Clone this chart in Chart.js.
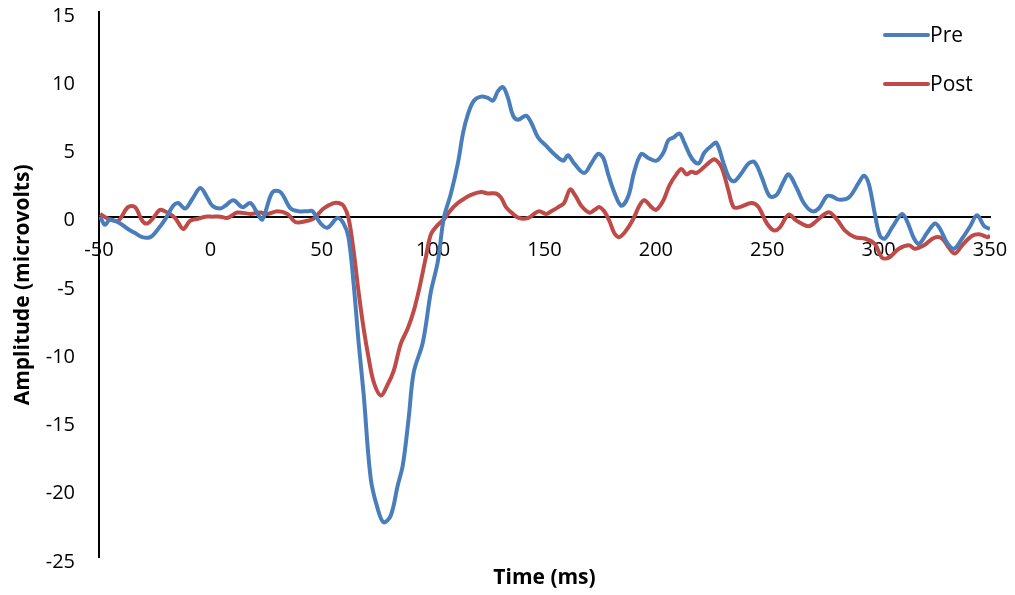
<!DOCTYPE html>
<html>
<head>
<meta charset="utf-8">
<script src="https://cdn.jsdelivr.net/npm/chart.js@4/dist/chart.umd.min.js"></script>
<style>
  html, body { margin: 0; padding: 0; background: #fff; }
  #wrap { width: 1015px; height: 595px; }
</style>
</head>
<body>
<div id="wrap"><canvas id="erpChart" width="1015" height="595"></canvas></div>
<script>
// time points (ms) and amplitudes (microvolts)
const preTime = [
  -49.5, -47.3, -45, -40.5, -37, -33.8, -30.6, -27, -23.9, -20.3,
  -16.7, -14.5, -11.3, -8.1, -4.5, -1.4, 0.9, 4.5, 6.7, 10.3,
  14.4, 18, 21.6, 23.4, 27.9, 31.5, 36, 39.6, 43.6, 45.9,
  49.5, 52.6, 57.1, 59.8, 62, 64.3, 66.6, 68.8, 72, 75.1,
  77.8, 81, 84.1, 86.4, 89, 91.3, 95.4, 99, 102.1, 104.8,
  108, 111.1, 113.4, 115.6, 118.3, 121.5, 124.6, 126.9, 129.1, 131.4,
  133.6, 135.9, 138.1, 141.7, 144, 147.1, 150.7, 154.3, 158.4, 160.5,
  163.3, 167.8, 171, 174.1, 176.4, 178.6, 181.3, 184.5, 187.6, 190.3,
  193.5, 196.6, 200.2, 203.4, 205.6, 207.9, 210.6, 212.8, 216, 219.1,
  221.8, 225, 227.2, 230.4, 233.1, 235.3, 238.5, 241.6, 244.3, 247.5,
  251.1, 254.2, 257.4, 259.6, 263.2, 266.4, 270, 273.1, 276.7, 279,
  282.1, 286.6, 291.1, 293.4, 295.6, 298.3, 300.6, 302.8, 306, 310.5,
  312.7, 315.9, 318.1, 321.7, 325.3, 327.6, 330.7, 333.9, 337.5, 341.1,
  344.2, 347.4, 350
];
const preValues = [
  0.0, -0.6, -0.2, -0.5, -0.9, -1.2, -1.5, -1.5, -1.0, -0.2,
  0.8, 1.0, 0.6, 1.3, 2.1, 1.4, 0.8, 0.6, 0.8, 1.2,
  0.7, 1.0, 0.1, -0.2, 1.8, 1.8, 0.6, 0.4, 0.4, 0.4,
  -0.5, -0.8, -0.1, -0.5, -1.5, -4.9, -9.3, -13.0, -19.2, -21.4,
  -22.4, -21.9, -19.7, -18.2, -14.8, -11.4, -9.2, -5.5, -3.3, -0.1,
  1.7, 3.9, 6.1, 7.5, 8.5, 8.8, 8.7, 8.5, 9.2, 9.5,
  8.7, 7.4, 7.1, 7.4, 6.9, 5.8, 5.2, 4.6, 4.1, 4.5,
  3.9, 3.2, 3.9, 4.6, 4.3, 3.1, 1.8, 0.8, 1.5, 3.3,
  4.6, 4.3, 4.1, 4.7, 5.6, 5.8, 6.1, 5.4, 4.3, 3.9,
  4.7, 5.2, 5.4, 3.9, 2.8, 2.6, 3.2, 3.9, 4.0, 2.9,
  1.5, 1.6, 2.6, 3.1, 2.1, 1.0, 0.4, 0.6, 1.5, 1.5,
  1.25, 1.4, 2.5, 3.0, 2.4, 0.2, -1.4, -1.6, -0.8, 0.2,
  -0.3, -1.6, -2.0, -1.2, -0.5, -0.9, -1.9, -2.35, -1.6, -0.7,
  0.1, -0.7, -0.9
];

const postTime = [
  -49.5, -46, -41.5, -37, -33.8, -30.6, -28.4, -25.7, -22.6, -19.4,
  -15.8, -12.2, -9.1, -5.5, -2.3, 0.9, 4.5, 7.6, 12.1, 18,
  22.5, 25.6, 30.1, 34.6, 38.2, 43.6, 46.3, 50.8, 55.3, 57.6,
  59.8, 62, 64.3, 66.6, 68.8, 71.1, 73.3, 76.5, 79.6, 82.3,
  85.5, 88.6, 91.3, 93.6, 96.7, 99, 102.1, 104.8, 108, 111.1,
  113.8, 117, 121.5, 124.6, 128.2, 130.5, 132.7, 135.9, 138.6, 142.6,
  145.3, 147.6, 150.7, 153, 156.2, 158.8, 161.5, 164, 166.5, 170.1,
  172.5, 174.6, 176.8, 179.1, 181.3, 183.6, 186.7, 189.9, 192.6, 194.8,
  198, 200.2, 203.4, 206.1, 209.2, 211.5, 213.7, 216, 218.2, 221.4,
  224.1, 226.4, 229.5, 232.6, 234.9, 237.6, 243, 246.1, 249.7, 252.9,
  255.6, 259.6, 263.2, 268.6, 272.2, 275.8, 278.1, 281.7, 284.8, 289.3,
  293.8, 298.3, 301.5, 304.6, 309.1, 313.6, 316.3, 320.4, 324.9, 328.5,
  331.6, 334.3, 337.5, 342, 345.6, 348.7, 350
];
const postValues = [
  0.2, -0.15, -0.3, 0.7, 0.7, -0.3, -0.5, -0.1, 0.5, 0.3,
  -0.1, -0.9, -0.3, -0.15, 0.0, 0.0, 0.0, -0.1, 0.3, 0.2,
  0.3, 0.2, 0.4, 0.2, -0.4, -0.3, -0.15, 0.6, 1.0, 1.0,
  0.8, -0.1, -2.5, -5.6, -8.2, -10.4, -12.1, -13.1, -12.3, -11.3,
  -9.3, -8.2, -6.9, -5.4, -3.0, -1.3, -0.6, -0.2, 0.5, 1.0,
  1.3, 1.6, 1.8, 1.7, 1.7, 1.4, 0.7, 0.2, -0.1, -0.1,
  0.2, 0.4, 0.2, 0.4, 0.7, 1.0, 2.0, 1.5, 0.8, 0.3,
  0.5, 0.7, 0.4, -0.3, -1.2, -1.5, -1.0, -0.15, 0.8, 1.2,
  0.7, 0.5, 1.2, 2.3, 3.1, 3.5, 3.1, 3.3, 3.2, 3.6,
  4.0, 4.2, 3.6, 1.9, 0.7, 0.7, 1.0, 0.7, -0.45, -1.0,
  -0.8, 0.15, -0.3, -0.7, -0.3, 0.2, 0.3, -0.3, -1.0, -1.5,
  -1.6, -2.0, -3.0, -3.0, -2.35, -2.1, -2.35, -2.1, -1.55, -1.6,
  -2.3, -2.7, -2.1, -1.4, -1.3, -1.5, -1.4
];

const seriesLabels = ['Pre', 'Post'];
const seriesColors = ['#4a7ebb', '#be4b48'];

const FONT = "'Open Sans', 'DejaVu Sans', sans-serif";

function toPoints(times, values) {
  return times.map((t, i) => ({ x: t, y: values[i] }));
}

// legend drawn at top right, two stacked entries like the original
const cornerLegend = {
  id: 'cornerLegend',
  afterDraw(chart) {
    const ctx = chart.ctx;
    const rows = [35, 84];
    ctx.save();
    chart.data.datasets.forEach((ds, i) => {
      const y = rows[i];
      ctx.strokeStyle = ds.borderColor;
      ctx.lineWidth = 4;
      ctx.lineCap = 'round';
      ctx.beginPath();
      ctx.moveTo(885, y);
      ctx.lineTo(928, y);
      ctx.stroke();
      ctx.fillStyle = '#000';
      ctx.font = '21px ' + FONT;
      ctx.textBaseline = 'middle';
      ctx.textAlign = 'left';
      ctx.fillText(ds.label, 930, y + 1);
    });
    ctx.restore();
  }
};

new Chart(document.getElementById('erpChart').getContext('2d'), {
  type: 'line',
  data: {
    datasets: [
      {
        label: seriesLabels[0],
        data: toPoints(preTime, preValues),
        borderColor: seriesColors[0],
        backgroundColor: seriesColors[0],
        borderWidth: 4,
        pointRadius: 0,
        tension: 0.35,
        fill: false
      },
      {
        label: seriesLabels[1],
        data: toPoints(postTime, postValues),
        borderColor: seriesColors[1],
        backgroundColor: seriesColors[1],
        borderWidth: 4,
        pointRadius: 0,
        tension: 0.35,
        fill: false
      }
    ]
  },
  options: {
    responsive: false,
    animation: false,
    layout: {
      padding: { left: 0, right: 25, top: 12, bottom: 0 }
    },
    scales: {
      x: {
        type: 'linear',
        position: { y: 0 },
        min: -50,
        max: 350,
        grid: { display: false, drawTicks: false },
        border: { display: true, color: '#000', width: 2 },
        ticks: {
          stepSize: 50,
          padding: 22,
          color: '#000',
          font: { family: FONT, size: 20 }
        },
        afterFit(scale) {
          // the end labels may hang over the edges, as in the original
          scale.paddingLeft = 0;
          scale.paddingRight = 0;
        }
      },
      y: {
        min: -25,
        max: 15,
        grid: { display: false, drawTicks: false },
        border: { display: true, color: '#000', width: 2 },
        ticks: {
          stepSize: 5,
          padding: 24,
          labelOffset: 4,
          color: '#000',
          font: { family: FONT, size: 20 }
        },
        title: {
          display: true,
          text: 'Amplitude (microvolts)',
          color: '#000',
          padding: { top: 10, bottom: 0 },
          font: { family: FONT, size: 21, weight: 'bold' }
        },
        afterFit(scale) {
          scale.width = 99;
          scale.paddingTop = 0;
          scale.paddingBottom = 0;
        }
      }
    },
    plugins: {
      legend: { display: false },
      tooltip: { enabled: false },
      title: {
        display: true,
        position: 'bottom',
        fullSize: false,
        text: 'Time (ms)',
        color: '#000',
        padding: { top: 8, bottom: 4 },
        font: { family: FONT, size: 21, weight: 'bold' }
      }
    }
  },
  plugins: [cornerLegend]
});
</script>
</body>
</html>
